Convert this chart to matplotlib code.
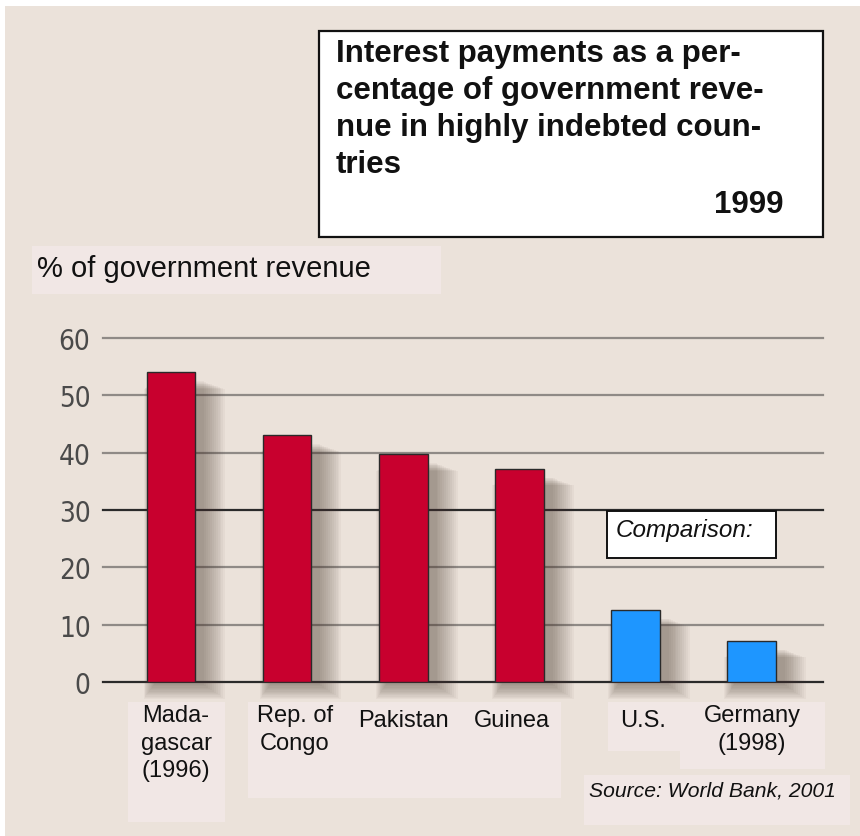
import matplotlib
matplotlib.use("Agg")
import matplotlib.pyplot as plt
from matplotlib.patches import Rectangle
import numpy as np

# data
countries = ["Mada-\ngascar\n(1996)", "Rep. of\nCongo", "Pakistan", "Guinea", "U.S.", "Germany\n(1998)"]
values = [54, 43, 39.7, 37.2, 12.6, 7.2]
bar_colors = ["#C8002E", "#C8002E", "#C8002E", "#C8002E", "#1E96FF", "#1E96FF"]
yticks = [0, 10, 20, 30, 40, 50, 60]
title_lines = ["Interest payments as a per-", "centage of government reve-",
               "nue in highly indebted coun-", "tries"]
year = "1999"
ylabel = "% of government revenue"
source = "Source: World Bank, 2001"

W, H = 860, 837
bg = "#EBE2DA"
label_bg = "#F1E7E5"
sans = ["Liberation Sans", "DejaVu Sans"]


def fx(px):
    return px / W


def fy(py):
    return 1 - py / H


def fig_box(x0, y0, x1, y1, **kw):
    r = Rectangle((fx(x0), fy(y1)), fx(x1) - fx(x0), fy(y0) - fy(y1),
                  transform=fig.transFigure, **kw)
    fig.add_artist(r)
    return r


fig = plt.figure(figsize=(W / 100, H / 100), dpi=100, facecolor="white")

# beige background
fig_box(5, 7, W, H, facecolor=bg, edgecolor="none", zorder=0)

# title box
fig_box(319, 32, 823, 238, facecolor="white", edgecolor="#111111", lw=1.6, zorder=2)
for i, line in enumerate(title_lines):
    fig.text(fx(336), fy(62 + 37 * i), line, fontsize=22.5, fontweight="bold",
             family=sans, va="baseline", ha="left", color="#111111", zorder=3)
fig.text(fx(783), fy(213), year, fontsize=22.5, fontweight="bold", family=sans,
         va="baseline", ha="right", color="#111111", zorder=3)

# y label
fig_box(32, 247, 441, 295, facecolor=label_bg, edgecolor="none", zorder=1)
fig.text(fx(37), fy(277), ylabel, fontsize=21, family=sans, va="baseline",
         ha="left", color="#111111", zorder=3)

# axes
ax = fig.add_axes([fx(103), 154 / H, 720 / W, 344 / H])
ax.set_facecolor("none")
ax.set_xlim(-0.585, 5.615)
ax.set_ylim(0, 60)
for s in ax.spines.values():
    s.set_visible(False)
ax.set_xticks([])
ax.set_yticks(yticks)
ax.tick_params(axis="y", length=0, pad=9, labelsize=20, labelcolor="#4a4a4a")
for lbl in ax.get_yticklabels():
    lbl.set_family(["DejaVu Sans"])
    lbl.set_fontstretch("condensed")
    lbl.set_fontweight("light")

for t in yticks:
    c = "#2a2a2a" if t in (0, 30) else "#8f8a86"
    ax.axhline(t, color=c, lw=1.6, zorder=1, clip_on=False)

x = np.arange(len(values))
w = 0.42
dx = 1 / 116.0
dy = 60 / 344.0

# soft shadows
for k in range(12):
    ax.bar(x + (8 + 0.5 * k) * dx, np.array(values) - (6 - 0.6 * k) * dy,
           width=w + (2 + 2.8 * k) * dx, bottom=-(3 + 1.3 * k) * dy,
           color="#4a3a30", alpha=0.042, lw=0, zorder=2, clip_on=False)

ax.bar(x, values, width=w, color=bar_colors, edgecolor="#2a2a2a", lw=1.0, zorder=3)

# category labels
fig_box(128, 703, 225, 823, facecolor=label_bg, edgecolor="none", zorder=1)
fig_box(248, 703, 561, 799, facecolor=label_bg, edgecolor="none", zorder=1)
fig_box(608, 703, 680, 752, facecolor=label_bg, edgecolor="none", zorder=1)
fig_box(680, 703, 825, 770, facecolor=label_bg, edgecolor="none", zorder=1)
fig_box(584, 776, 850, 826, facecolor=label_bg, edgecolor="none", zorder=1)

label_x = [176, 295, 403, 512, 643, 752]
label_y = [705, 705, 710, 710, 710, 705]
for name, lx, ly in zip(countries, label_x, label_y):
    fig.text(fx(lx), fy(ly), name, fontsize=17, family=sans, ha="center", va="top",
             multialignment="center", linespacing=1.33, color="#111111", zorder=3)

# comparison box
fig_box(607, 512, 776, 559, facecolor="white", edgecolor="#111111", lw=1.4, zorder=4)
fig.text(fx(616), fy(537), "Comparison:", fontsize=17.5, style="italic", family=sans,
         va="baseline", ha="left", color="#111111", zorder=5)

fig.text(fx(589), fy(797), source, fontsize=15.2, style="italic", family=sans,
         va="baseline", ha="left", color="#111111", zorder=3)

fig.savefig("out.png", dpi=100, facecolor="white")
